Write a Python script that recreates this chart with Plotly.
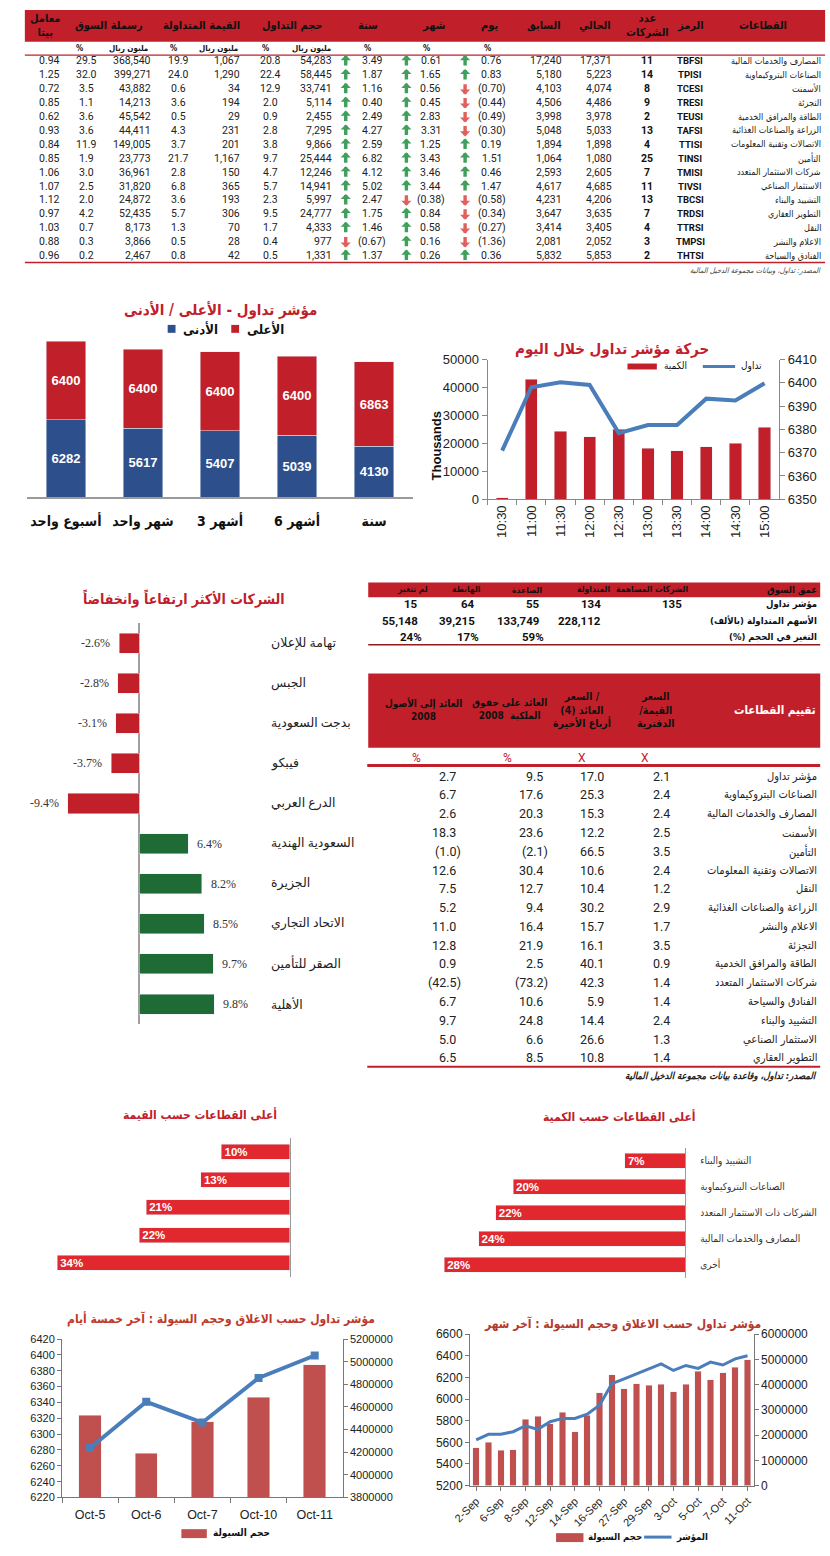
import plotly.graph_objects as go

# ===================== DATA =====================
# --- sector performance table ---
sectors = ["المصارف والخدمات المالية", "الصناعات البتروكيماوية", "الأسمنت", "التجزئة",
           "الطاقة والمرافق الخدمية", "الزراعة والصناعات الغذائية", "الاتصالات وتقنية المعلومات",
           "التأمين", "شركات الاستثمار المتعدد", "الاستثمار الصناعي", "التشييد والبناء",
           "التطوير العقاري", "النقل", "الاعلام والنشر", "الفنادق والسياحة"]
symbols = ["TBFSI", "TPISI", "TCESI", "TRESI", "TEUSI", "TAFSI", "TTISI", "TINSI",
           "TMISI", "TIVSI", "TBCSI", "TRDSI", "TTRSI", "TMPSI", "THTSI"]
n_companies = [11, 14, 8, 9, 2, 13, 4, 25, 7, 11, 13, 7, 4, 3, 2]
current = [17371, 5223, 4074, 4486, 3978, 5033, 1898, 1080, 2605, 4685, 4206, 3635, 3405, 2052, 5853]
previous = [17240, 5180, 4103, 4506, 3998, 5048, 1894, 1064, 2593, 4617, 4231, 3647, 3414, 2081, 5832]
day_chg = [0.76, 0.83, -0.70, -0.44, -0.49, -0.30, 0.19, 1.51, 0.46, 1.47, -0.58, -0.34, -0.27, -1.36, 0.36]
month_chg = [0.61, 1.65, 0.56, 0.45, 2.83, 3.31, 1.25, 3.43, 3.46, 3.44, -0.38, 0.84, 0.58, 0.16, 0.26]
year_chg = [3.49, 1.87, 1.16, 0.40, 2.49, 4.27, 2.59, 6.82, 4.12, 5.02, 2.47, 1.75, 1.46, -0.67, 1.37]
volume = [54283, 58445, 33741, 5114, 2455, 7295, 9866, 25444, 12246, 14941, 5997, 24777, 4333, 977, 1331]
volume_pct = [20.8, 22.4, 12.9, 2.0, 0.9, 2.8, 3.8, 9.7, 4.7, 5.7, 2.3, 9.5, 1.7, 0.4, 0.5]
value_traded = [1067, 1290, 34, 194, 29, 231, 201, 1167, 150, 365, 193, 306, 70, 28, 42]
value_pct = [19.9, 24.0, 0.6, 3.6, 0.5, 4.3, 3.7, 21.7, 2.8, 6.8, 3.6, 5.7, 1.3, 0.5, 0.8]
market_cap = [368540, 399271, 43882, 14213, 45542, 44411, 149005, 23773, 36961, 31820, 24872, 52435, 8173, 3866, 2467]
market_cap_pct = [29.5, 32.0, 3.5, 1.1, 3.6, 3.6, 11.9, 1.9, 3.0, 2.5, 2.0, 4.2, 0.7, 0.3, 0.2]
beta = [0.94, 1.25, 0.72, 0.85, 0.62, 0.93, 0.84, 0.85, 1.06, 1.07, 1.12, 0.97, 1.03, 0.88, 0.96]
table_headers = ["القطاعات", "الرمز", "عدد<br>الشركات", "الحالي", "السابق", "يوم", "شهر", "سنة",
                 "حجم التداول", "القيمة المتداولة", "رسملة السوق", "معامل<br>بيتا"]
table_units = ["%", "مليون ريال", "%", "مليون ريال", "%", "مليون ريال", "%", "%", "%"]
table_source = "المصدر: تداول، وبيانات مجموعة الدخيل المالية"

# --- index high / low ---
periods = ["أسبوع واحد", "شهر واحد", "3 أشهر", "6 أشهر", "سنة"]
index_low = [6282, 5617, 5407, 5039, 4130]
index_high = [6400, 6400, 6400, 6400, 6863]
hl_names = ["الأعلى", "الأدنى"]
hl_title = "مؤشر تداول - الأعلى / الأدنى"

# --- intraday ---
times = ["10:30", "11:00", "11:30", "12:00", "12:30", "13:00", "13:30", "14:00", "14:30", "15:00"]
intraday_qty = [600, 42900, 24300, 22400, 25100, 18200, 17300, 18700, 20100, 25700]
intraday_index = [6370.9, 6398.1, 6400.2, 6399.1, 6378.4, 6381.9, 6381.9, 6393.2, 6392.4, 6399.8]
intraday_names = ["الكمية", "تداول"]
intraday_title = "حركة مؤشر تداول خلال اليوم"

# --- top movers ---
movers = ["تهامة للإعلان", "الجبس", "بدجت السعودية", "فيبكو", "الدرع العربي",
          "السعودية الهندية", "الجزيرة", "الاتحاد التجاري", "الصقر للتأمين", "الأهلية"]
movers_chg = [-2.6, -2.8, -3.1, -3.7, -9.4, 6.4, 8.2, 8.5, 9.7, 9.8]
movers_title = "الشركات الأكثر ارتفاعاً وانخفاضاً"

# --- market depth ---
depth_title = "عمق السوق"
depth_cols = ["الشركات المساهمة", "المتداولة", "الصاعدة", "الهابطة", "لم تتغير"]
depth_rows = ["مؤشر تداول", "الأسهم المتداولة (بالألف)", "التغير في الحجم (%)"]
depth_companies = [135, 134, 55, 64, 15]
depth_shares = [None, 228112, 133749, 39215, 55148]
depth_change = [None, None, 59, 17, 24]

# --- sector valuation ---
val_title = "تقييم القطاعات"
val_headers = ["السعر<br>/القيمة<br>الدفترية", "السعر /<br>العائد (4)<br>أرباع الأخيرة",
               "العائد على حقوق<br>الملكية  2008", "العائد إلى الأصول<br>2008"]
val_units = ["X", "X", "%", "%"]
val_sectors = ["مؤشر تداول", "الصناعات البتروكيماوية", "المصارف والخدمات المالية", "الأسمنت",
               "التأمين", "الاتصالات وتقنية المعلومات", "النقل", "الزراعة والصناعات الغذائية",
               "الاعلام والنشر", "التجزئة", "الطاقة والمرافق الخدمية", "شركات الاستثمار المتعدد",
               "الفنادق والسياحة", "التشييد والبناء", "الاستثمار الصناعي", "التطوير العقاري"]
pb = [2.1, 2.4, 2.4, 2.5, 3.5, 2.4, 1.2, 2.9, 1.7, 3.5, 0.9, 1.4, 1.4, 2.4, 1.3, 1.4]
pe = [17.0, 25.3, 15.3, 12.2, 66.5, 10.6, 10.4, 30.2, 15.7, 16.1, 40.1, 42.3, 5.9, 14.4, 26.6, 10.8]
roe = [9.5, 17.6, 20.3, 23.6, -2.1, 30.4, 12.7, 9.4, 16.4, 21.9, 2.5, -73.2, 10.6, 24.8, 6.6, 8.5]
roa = [2.7, 6.7, 2.6, 18.3, -1.0, 12.6, 7.5, 5.2, 11.0, 12.8, 0.9, -42.5, 6.7, 9.7, 5.0, 6.5]
val_source = "المصدر: تداول، وقاعدة بيانات مجموعة الدخيل المالية"

# --- top sectors by value / quantity ---
value_title = "أعلى القطاعات حسب القيمة"
value_rank = ["1", "2", "3", "4", "5"]
value_share = [10, 13, 21, 22, 34]
qty_title = "أعلى القطاعات حسب الكمية"
qty_sectors = ["التشييد والبناء", "الصناعات البتروكيماوية", "الشركات ذات الاستثمار المتعدد",
               "المصارف والخدمات المالية", "أخرى"]
qty_share = [7, 20, 22, 24, 28]

# --- last five days ---
days5 = ["Oct-5", "Oct-6", "Oct-7", "Oct-10", "Oct-11"]
liq5 = [4526000, 4191000, 4468000, 4684000, 4975000]
close5 = [6282.5, 6340.8, 6314.6, 6370.8, 6399.2]
five_title = "مؤشر تداول حسب الاغلاق وحجم السيولة : آخر خمسة أيام"

# --- last month ---
month_dates = ["2-Sep", "5-Sep", "6-Sep", "7-Sep", "8-Sep", "9-Sep", "12-Sep", "13-Sep", "14-Sep",
               "15-Sep", "16-Sep", "26-Sep", "27-Sep", "28-Sep", "29-Sep", "30-Sep", "3-Oct",
               "4-Oct", "5-Oct", "6-Oct", "7-Oct", "10-Oct", "11-Oct"]
liq_month = [1507000, 1716000, 1402000, 1428000, 2620000, 2751000, 2450000, 2908000, 2135000,
             2790000, 3681000, 4389000, 3839000, 4035000, 3970000, 4009000, 3708000, 4009000,
             4526000, 4191000, 4468000, 4684000, 4975000]
close_month = [5622, 5674, 5674, 5698, 5753, 5720, 5790, 5821, 5821, 5860, 5943, 6142, 6187,
               6233, 6279, 6325, 6264, 6310, 6282.5, 6340.8, 6314.6, 6370.8, 6399.2]
month_title = "مؤشر تداول حسب الاغلاق وحجم السيولة : آخر شهر"
liq_names = ["حجم السيولة", "المؤشر"]

# ===================== STYLE / HELPERS =====================
W, H = 830, 1556
RED = "#c1202b"
BLUE = "#2d4f8c"
GREEN_BAR = "#1e6b36"
XLRED = "#c0504d"
XLBLUE = "#4a7ebb"
ARROW_UP = "#3f9f5b"
ARROW_DN = "#e0605e"
AR = "DejaVu Sans Condensed, DejaVu Sans, sans-serif"
NUM = "Roboto, Liberation Sans, sans-serif"
SANS = "Liberation Sans, Arial, sans-serif"
SERIF = "Liberation Serif, DejaVu Serif, DejaVu Sans, serif"
RLM = "\u200f"


def rtl(s):
    return RLM + s + RLM


def X(p):
    return p / W


def Y(p):
    return 1 - p / H


def xdom(a, b):
    return [a / W, b / W]


def ydom(top, bottom):
    return [1 - bottom / H, 1 - top / H]


ann, shp = [], []


def label(x, y, s, size=11, color="#111", xanchor="center", bold=False, italic=False,
          family=AR, angle=0):
    if bold:
        s = "<b>" + s + "</b>"
    if italic:
        s = "<i>" + s + "</i>"
    ann.append(dict(x=X(x), y=Y(y), xref="paper", yref="paper", text=s, showarrow=False,
                    xanchor=xanchor, yanchor="middle", textangle=angle, borderpad=0,
                    font=dict(size=size, color=color, family=family)))


def rect(x0, y0, x1, y1, color):
    shp.append(dict(type="rect", xref="paper", yref="paper", x0=X(x0), x1=X(x1),
                    y0=Y(y1), y1=Y(y0), fillcolor=color, line=dict(width=0), layer="below"))


def hline(x0, x1, y, color, width=1.0):
    shp.append(dict(type="line", xref="paper", yref="paper", x0=X(x0), x1=X(x1),
                    y0=Y(y), y1=Y(y), line=dict(color=color, width=width)))


def arrow(x, y, up):
    tip = y - 6 if up else y + 6
    ann.append(dict(x=X(x), y=Y(tip), xref="paper", yref="paper", text="", showarrow=True,
                    arrowhead=1, arrowsize=0.5, arrowwidth=3.4,
                    arrowcolor=ARROW_UP if up else ARROW_DN,
                    ax=0, ay=12 if up else -12, standoff=0, startstandoff=0))


def paren(v, d):
    s = f"{abs(v):.{d}f}"
    return f"({s})" if v < 0 else s


fig = go.Figure()

# ===================== TOP TABLE =====================
rect(7, 3, 825, 35, RED)
hdr_x = [762, 687, 643, 590, 538, 482, 425, 358, 280, 188, 93, 28]
for h, x in zip(table_headers, hdr_x):
    label(x, 19, h, 11, "#111", bold=True)
unit_x = [63, 113, 159, 205, 253, 300, 357, 418, 480]
for u, x in zip(table_units, unit_x):
    label(x, 42, u, 8, "#111", bold=True)
hline(7, 825, 48.5, RED, 1.3)
hline(7, 825, 258, RED, 1.6)
NS = 10.5
for i in range(len(sectors)):
    y = 54.5 + 14.03 * i
    label(32, y, f"{beta[i]:.2f}", NS, "#222", family=NUM)
    label(70, y, f"{market_cap_pct[i]:.1f}", NS, "#222", family=NUM)
    label(137, y, f"{market_cap[i]:,}", NS, "#222", "right", family=NUM)
    label(164, y, f"{value_pct[i]:.1f}", NS, "#222", family=NUM)
    label(228, y, f"{value_traded[i]:,}", NS, "#222", "right", family=NUM)
    label(258, y, f"{volume_pct[i]:.1f}", NS, "#222", family=NUM)
    label(322, y, f"{volume[i]:,}", NS, "#222", "right", family=NUM)
    arrow(335, y, year_chg[i] >= 0)
    label(362, y, paren(year_chg[i], 2), NS, "#222", family=NUM)
    arrow(397, y, month_chg[i] >= 0)
    label(422, y, paren(month_chg[i], 2), NS, "#222", family=NUM)
    arrow(457, y, day_chg[i] >= 0)
    label(484, y, paren(day_chg[i], 2), NS, "#222", family=NUM)
    label(557, y, f"{previous[i]:,}", NS, "#222", "right", family=NUM)
    label(608, y, f"{current[i]:,}", NS, "#222", "right", family=NUM)
    label(643, y, str(n_companies[i]), NS, "#111", bold=True, family=NUM)
    label(687, y, symbols[i], 9.5, "#111", bold=True, family=NUM)
    label(822, y, rtl(sectors[i]), 9, "#222", "right")
label(822, 266, rtl(table_source), 7.5, "#444", "right", italic=True)

# ===================== HIGH / LOW STACKED =====================
for vals, nm, col in ((index_low, hl_names[1], BLUE), (index_high, hl_names[0], RED)):
    fig.add_trace(go.Bar(x=periods, y=vals, name=nm, marker_color=col, width=0.51,
                         texttemplate="<b>%{y}</b>", textposition="inside",
                         insidetextanchor="middle", constraintext="none",
                         textfont=dict(color="white", size=13, family=SANS),
                         xaxis="x", yaxis="y", showlegend=False))
label(207, 306, rtl(hl_title), 15, RED, bold=True)
rect(153, 321, 161, 329, BLUE)
label(168, 325, hl_names[1], 13, "#111", "left", bold=True)
rect(218, 321, 226, 329, RED)
label(233, 325, hl_names[0], 13, "#111", "left", bold=True)

# ===================== INTRADAY =====================
fig.add_trace(go.Bar(x=times, y=intraday_qty, name=intraday_names[0], marker_color=RED,
                     width=0.42, xaxis="x2", yaxis="y2", showlegend=False))
fig.add_trace(go.Scatter(x=times, y=intraday_index, name=intraday_names[1], mode="lines",
                         line=dict(color=XLBLUE, width=4), xaxis="x2", yaxis="y3",
                         showlegend=False))
label(607, 345, intraday_title, 15, RED, bold=True)
rect(623, 360, 653, 366, RED)
label(659, 362, intraday_names[0], 10, "#111", "left")
hline(700, 733, 363, XLBLUE, 3)
label(738, 362, intraday_names[1], 10, "#111", "left")
label(428, 443, "Thousands", 13, "#111", bold=True, family=SANS, angle=-90)

# ===================== TOP MOVERS =====================
zero_px, ppu = 124, 7.8
fig.add_trace(go.Bar(y=movers, x=movers_chg, orientation="h", width=0.5,
                     marker_color=[RED if v < 0 else GREEN_BAR for v in movers_chg],
                     xaxis="x4", yaxis="y4", showlegend=False))
for n, v in zip(movers, movers_chg):
    ann.append(dict(x=v, y=n, xref="x4", yref="y4", text=f"{v:.1f}%", showarrow=False,
                    xanchor="right" if v < 0 else "left", xshift=-7 if v < 0 else 7,
                    font=dict(size=12, color="#333", family=SERIF)))
    ann.append(dict(x=X(257), y=n, xref="paper", yref="y4", text=n, showarrow=False,
                    xanchor="left", font=dict(size=12.5, color="#222", family=SERIF)))
label(170, 597, movers_title, 14, RED, bold=True)

# ===================== MARKET DEPTH =====================
rect(358, 581, 820, 596, RED)
label(818, 588.5, depth_title, 9.5, "#111", "right", bold=True)
for c, x in zip(depth_cols, [648, 588, 520, 458, 403]):
    label(x, 588.5, c, 8.5, "#111", bold=True)
depth_y = [603, 620, 636]
for r, y in zip(depth_rows, depth_y):
    label(818, y, rtl(r), 9.5, "#111", "right", bold=True)
dx = [680, 597, 535, 468, 410]
for j in range(5):
    label(dx[j], depth_y[0], f"{depth_companies[j]:,}", 11.5, "#111", "right", bold=True, family=NUM)
    if depth_shares[j] is not None:
        label(dx[j], depth_y[1], f"{depth_shares[j]:,}", 11.5, "#111", "right", bold=True, family=NUM)
    if depth_change[j] is not None:
        label(dx[j] + 4, depth_y[2], f"{depth_change[j]}%", 11.5, "#111", "right", bold=True, family=NUM)
hline(358, 820, 644, "#8e1d1d", 1.5)

# ===================== VALUATION TABLE =====================
rect(358, 673, 820, 748, RED)
label(817, 710, val_title, 11.5, "white", "right", bold=True)
label(672, 710, rtl(val_headers[0]), 10.5, "#111", "right", bold=True)
label(607, 710, rtl(val_headers[1]), 10.5, "#111", "right", bold=True)
label(542, 709, rtl(val_headers[2]), 10, "#111", "right", bold=True)
label(455, 709, rtl(val_headers[3]), 10, "#111", "right", bold=True)
for u, x in zip(val_units, [641, 577, 500, 407]):
    label(x, 758, u, 12, RED, family=NUM)
hline(357, 820, 766, RED, 3)
VS = 12.5
for i in range(len(val_sectors)):
    y = 776.7 + 18.96 * i
    label(818, y, val_sectors[i], 11, "#222", "right")
    for vals, xr in ((pb, 667), (pe, 600), (roe, 538), (roa, 449)):
        v = vals[i]
        label(xr + (5 if v < 0 else 0), y, paren(v, 1), VS, "#222", "right", family=NUM)
hline(357, 820, 1070, RED, 2)
label(818, 1079, rtl(val_source), 9.5, "#222", "right", bold=True, italic=True)

# ===================== SECTORS BY VALUE / QUANTITY =====================
fig.add_trace(go.Bar(y=value_rank, x=value_share, orientation="h", width=0.54,
                     marker_color="#e0282e", text=[f"{v}%" for v in value_share],
                     textposition="inside", insidetextanchor="end", constraintext="none",
                     textfont=dict(color="white", size=11.5, family=SANS, weight="bold"),
                     xaxis="x5", yaxis="y5", showlegend=False))
label(186, 1118, value_title, 12, RED, bold=True)
fig.add_trace(go.Bar(y=qty_sectors, x=qty_share, orientation="h", width=0.57,
                     marker_color="#e0282e", text=[f"{v}%" for v in qty_share],
                     textposition="inside", insidetextanchor="end", constraintext="none",
                     textfont=dict(color="white", size=11.5, family=SANS, weight="bold"),
                     xaxis="x6", yaxis="y6", showlegend=False))
label(614, 1120, qty_title, 12, RED, bold=True)

# ===================== LAST FIVE DAYS =====================
fig.add_trace(go.Bar(x=days5, y=liq5, name=liq_names[0], marker_color=XLRED, width=0.4,
                     xaxis="x7", yaxis="y7", showlegend=False))
fig.add_trace(go.Scatter(x=days5, y=close5, name=liq_names[1], mode="lines+markers",
                         line=dict(color=XLBLUE, width=4),
                         marker=dict(symbol="square", size=8, color=XLBLUE),
                         xaxis="x7", yaxis="y8", showlegend=False))
label(207, 1325, rtl(five_title), 12, "#c0392b", bold=True)
rect(167, 1537, 193, 1546, XLRED)
label(198, 1541, liq_names[0], 10, "#111", "left", bold=True)

# ===================== LAST MONTH =====================
fig.add_trace(go.Bar(x=month_dates, y=liq_month, name=liq_names[0], marker_color=XLRED,
                     width=0.53, xaxis="x9", yaxis="y9", showlegend=False))
fig.add_trace(go.Scatter(x=month_dates, y=close_month, name=liq_names[1], mode="lines",
                         line=dict(color=XLBLUE, width=3), xaxis="x9", yaxis="y10",
                         showlegend=False))
label(618, 1330, rtl(month_title), 12, "#b5392c", bold=True)
rect(550, 1541, 578, 1550, XLRED)
label(582, 1545, liq_names[0], 9.5, "#111", "left", bold=True)
hline(640, 668, 1545, XLBLUE, 3)
label(672, 1545, liq_names[1], 9.5, "#111", "left", bold=True)

# ===================== AXES =====================
tick = dict(family=SANS, size=13, color="#222")
small = dict(family=SANS, size=11, color="#222")
common = dict(showgrid=False, zeroline=False)
layout_axes = dict(
    xaxis=dict(domain=xdom(9.6, 403.4), anchor="y", showline=True, linecolor="#9a9a9a",
               linewidth=1.5, ticks="", ticklabelstandoff=10,
               tickfont=dict(family=AR, size=14, color="#111", weight="bold"), **common),
    yaxis=dict(domain=ydom(321, 495), anchor="x", range=[0, 14000], visible=False, **common),
    xaxis2=dict(domain=xdom(480, 778), anchor="y2", showline=True, linecolor="#888",
                ticks="outside", tickson="boundaries", ticklen=5, tickcolor="#888",
                tickangle=-90, tickfont=tick, **common),
    yaxis2=dict(domain=ydom(356, 497), anchor="x2", range=[0, 50000], dtick=10000,
                showline=True, linecolor="#888", ticks="outside", ticklen=5, tickcolor="#888",
                tickfont=tick, tickformat="d", **common),
    yaxis3=dict(overlaying="y2", anchor="x2", side="right", range=[6350, 6410], dtick=10,
                showline=True, linecolor="#888", ticks="outside", ticklen=5, tickcolor="#888",
                tickfont=tick, **common),
    xaxis4=dict(domain=xdom(10, 240), anchor="y4",
                range=[-(zero_px - 10) / ppu, (240 - zero_px) / ppu],
                showticklabels=False, ticks="", showgrid=False, zeroline=True,
                zerolinecolor="#a0a0a0", zerolinewidth=1.5),
    yaxis4=dict(domain=ydom(622, 1027), anchor="x4", type="category", range=[9.5, -0.5],
                showticklabels=False, ticks="", **common),
    xaxis5=dict(domain=xdom(20, 278), anchor="y5", range=[258 / 7.0, 0], visible=False, **common),
    yaxis5=dict(domain=ydom(1142, 1282), anchor="x5", side="right", type="category",
                range=[4.5, -0.5], showline=True, linecolor="#9a9a9a", linewidth=1.2,
                showticklabels=False, ticks="", **common),
    xaxis6=dict(domain=xdom(400, 682), anchor="y6", range=[282 / 8.8, 0], visible=False, **common),
    yaxis6=dict(domain=ydom(1152, 1283), anchor="x6", side="right", type="category",
                range=[4.5, -0.5], showline=True, linecolor="#9a9a9a", linewidth=1.2,
                ticks="", ticklabelstandoff=12,
                tickfont=dict(family=AR, size=10, color="#333"), **common),
    xaxis7=dict(domain=xdom(45, 332), anchor="y7", showline=True, linecolor="#777",
                ticks="outside", tickson="boundaries", ticklen=5, tickcolor="#777",
                ticklabelstandoff=6, tickfont=dict(family=SANS, size=12.5, color="#222"), **common),
    yaxis7=dict(domain=ydom(1345, 1505), anchor="x7", side="right", range=[3800000, 5200000],
                dtick=200000, tickformat="d", showline=True, linecolor="#777",
                ticks="outside", ticklen=4, tickcolor="#777", tickfont=small, **common),
    yaxis8=dict(overlaying="y7", anchor="x7", side="left", range=[6220, 6420], dtick=20,
                showline=True, linecolor="#777", ticks="outside", ticklen=4, tickcolor="#777",
                tickfont=small, **common),
    xaxis9=dict(domain=xdom(462, 752), anchor="y9", showline=True, linecolor="#777",
                ticks="outside", ticklen=4, tickcolor="#777",
                tickmode="array", tickvals=month_dates[::2], ticktext=month_dates[::2],
                tickangle=-45, tickfont=dict(family=SANS, size=11, color="#222"), **common),
    yaxis9=dict(domain=ydom(1340, 1493), anchor="x9", side="right", range=[0, 6000000],
                dtick=1000000, tickformat="d", showline=True, linecolor="#777",
                ticks="outside", ticklen=4, tickcolor="#777",
                tickfont=dict(family=SANS, size=12, color="#222"), **common),
    yaxis10=dict(overlaying="y9", anchor="x9", side="left", range=[5200, 6600], dtick=200,
                 showline=True, linecolor="#777", ticks="outside", ticklen=4, tickcolor="#777",
                 tickfont=dict(family=SANS, size=12, color="#222"), **common),
)

fig.update_layout(
    width=W, height=H, autosize=False,
    margin=dict(l=0, r=0, t=0, b=0),
    paper_bgcolor="white", plot_bgcolor="rgba(0,0,0,0)",
    barmode="stack", showlegend=False, hovermode=False,
    font=dict(family=AR, color="#222"),
    annotations=ann, shapes=shp,
    **layout_axes,
)

fig.write_html("out.html", config={"displayModeBar": False},
               post_script="document.body.style.margin='0px';document.body.style.overflow='hidden';")
